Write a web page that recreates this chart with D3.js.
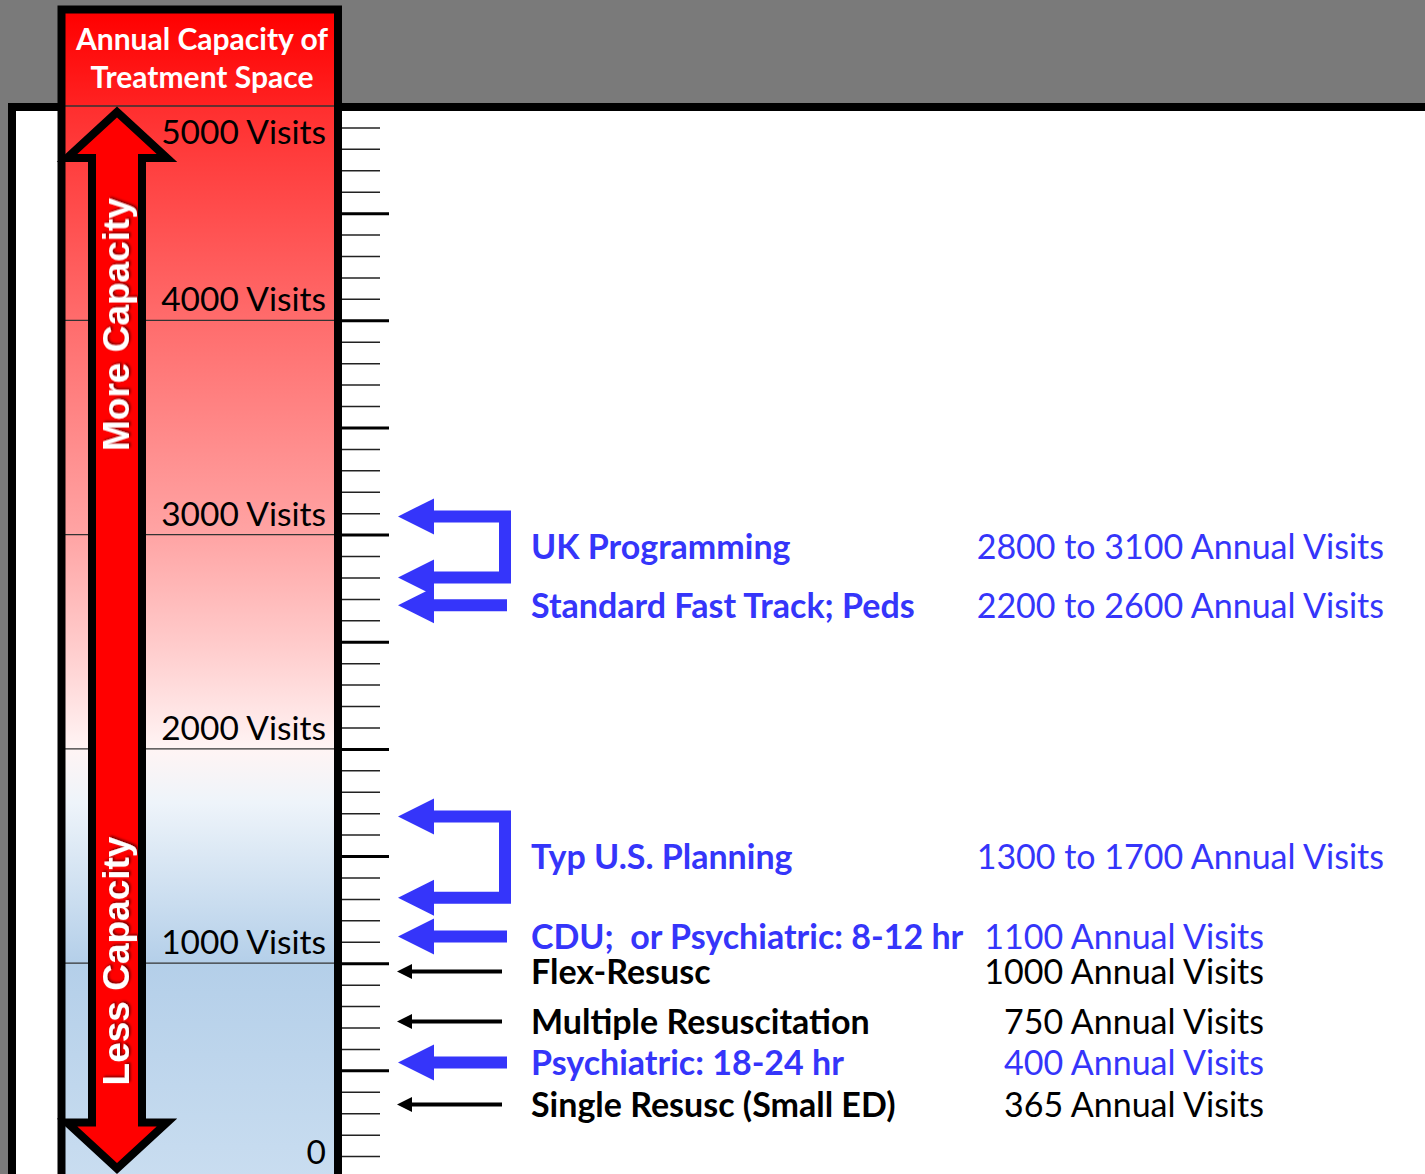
<!DOCTYPE html>
<html>
<head>
<meta charset="utf-8">
<script src="https://cdn.jsdelivr.net/npm/d3@7"></script>
<style>
  html, body { margin: 0; padding: 0; background: #7a7a7a; }
  svg { display: block; }
</style>
</head>
<body>
<div class="chart"></div>
<script>
// scale of the capacity column
const scaleValues = [0, 1000, 2000, 3000, 4000, 5000]
const scaleLabels = ['0', '1000 Visits', '2000 Visits', '3000 Visits', '4000 Visits', '5000 Visits']

// treatment spaces, where the arrows point on the scale
const itemLabels = ['UK Programming', 'Standard Fast Track; Peds', 'Typ U.S. Planning',
	'CDU;  or Psychiatric: 8-12 hr', 'Flex-Resusc', 'Multiple Resuscitation',
	'Psychiatric: 18-24 hr', 'Single Resusc (Small ED)']
const itemVisits = ['2800 to 3100 Annual Visits', '2200 to 2600 Annual Visits', '1300 to 1700 Annual Visits',
	'1100 Annual Visits', '1000 Annual Visits', '750 Annual Visits', '400 Annual Visits', '365 Annual Visits']
const itemArrows = [[3085, 2800], [2670], [1685, 1305], [1125], [961], [728], [537], [341]]
const itemKind = ['planning', 'planning', 'planning', 'planning', 'resus', 'resus', 'planning', 'resus']

const width = 1425, height = 1174

const svg = d3.select('.chart').append('svg')
	.attr('width', width)
	.attr('height', height)

const y = d3.scaleLinear()
	.domain([0, 5000])
	.range([1177.5, 106])

const kindColor = d3.scaleOrdinal()
	.domain(['planning', 'resus'])
	.range(['#3535fa', '#000000'])

const defs = svg.append('defs')

const headGrad = defs.append('linearGradient')
	.attr('id', 'headGrad').attr('x1', 0).attr('x2', 0).attr('y1', 0).attr('y2', 1)
headGrad.append('stop').attr('offset', '0%').attr('stop-color', '#ff0000')
headGrad.append('stop').attr('offset', '100%').attr('stop-color', '#ff2222')

const colGrad = defs.append('linearGradient')
	.attr('id', 'colGrad').attr('gradientUnits', 'userSpaceOnUse')
	.attr('x1', 0).attr('x2', 0).attr('y1', y(5000)).attr('y2', y(0))
const gradStops = [
	[5000, '#ff2e2e'], [4000, '#ff6c6c'], [3000, '#ffa4a4'], [2500, '#ffcaca'],
	[2000, '#fff4f4'], [1750, '#eef4fa'], [1000, '#b4cfe9'], [0, '#c9ddf0']
]
gradStops.forEach(s => {
	colGrad.append('stop')
		.attr('offset', (y(s[0]) - y(5000)) / (y(0) - y(5000)))
		.attr('stop-color', s[1])
})

const shadow = defs.append('filter').attr('id', 'shadow')
	.attr('x', '-20%').attr('y', '-20%').attr('width', '140%').attr('height', '140%')
shadow.append('feDropShadow')
	.attr('dx', 1.5).attr('dy', 1.5).attr('stdDeviation', 1)
	.attr('flood-color', '#000').attr('flood-opacity', 0.55)

// background: grey band and white panel
svg.append('rect')
	.attr('width', width).attr('height', height)
	.attr('fill', '#7a7a7a')

svg.append('rect')
	.attr('x', 12).attr('y', 107)
	.attr('width', width + 100).attr('height', height)
	.attr('fill', '#ffffff')
	.attr('stroke', '#000').attr('stroke-width', 8)

// capacity column
svg.append('rect')
	.attr('x', 65).attr('y', 13)
	.attr('width', 269).attr('height', y(5000) - 13)
	.attr('fill', 'url(#headGrad)')

svg.append('rect')
	.attr('x', 65).attr('y', y(5000))
	.attr('width', 269).attr('height', height - y(5000))
	.attr('fill', 'url(#colGrad)')

svg.selectAll('.band-line')
	.data([5000, 4000, 3000, 2000, 1000])
	.enter()
	.append('line')
	.attr('class', 'band-line')
	.attr('x1', 65).attr('x2', 334)
	.attr('y1', d => y(d)).attr('y2', d => y(d))
	.attr('stroke', '#333').attr('stroke-width', 1.3)

svg.append('rect')
	.attr('x', 61.5).attr('y', 9.5)
	.attr('width', 276.5).attr('height', height + 50)
	.attr('fill', 'none')
	.attr('stroke', '#000').attr('stroke-width', 8)

svg.append('text')
	.attr('x', 202).attr('y', 50)
	.attr('text-anchor', 'middle')
	.attr('font-family', 'Lato, sans-serif').attr('font-weight', 'bold')
	.attr('font-size', 30).attr('fill', '#fff')
	.text('Annual Capacity of')

svg.append('text')
	.attr('x', 202).attr('y', 88)
	.attr('text-anchor', 'middle')
	.attr('font-family', 'Lato, sans-serif').attr('font-weight', 'bold')
	.attr('font-size', 30).attr('fill', '#fff')
	.text('Treatment Space')

svg.selectAll('.scale-label')
	.data(scaleValues)
	.enter()
	.append('text')
	.attr('class', 'scale-label')
	.attr('x', 326)
	.attr('y', d => d === 5000 ? y(d) + 38 : (d === 0 ? y(d) - 14 : y(d) - 9))
	.attr('text-anchor', 'end')
	.attr('font-family', 'Lato, sans-serif')
	.attr('font-size', 33.5)
	.attr('fill', '#000')
	.text((d, i) => scaleLabels[i])

// double headed arrow, more / less capacity
const cx = 117
const arrowPath = d3.path()
arrowPath.moveTo(cx, y(5000) + 6)
arrowPath.lineTo(cx + 50, y(5000) + 52)
arrowPath.lineTo(cx + 25, y(5000) + 52)
arrowPath.lineTo(cx + 25, y(0) - 55)
arrowPath.lineTo(cx + 50, y(0) - 55)
arrowPath.lineTo(cx, y(0) - 9)
arrowPath.lineTo(cx - 50, y(0) - 55)
arrowPath.lineTo(cx - 25, y(0) - 55)
arrowPath.lineTo(cx - 25, y(5000) + 52)
arrowPath.lineTo(cx - 50, y(5000) + 52)
arrowPath.closePath()

svg.append('path')
	.attr('d', arrowPath.toString())
	.attr('fill', '#ff0000')
	.attr('stroke', '#000').attr('stroke-width', 8)
	.attr('stroke-linejoin', 'miter')

svg.selectAll('.capacity-text')
	.data([['More Capacity', 3980], ['Less Capacity', 1010]])
	.enter()
	.append('text')
	.attr('class', 'capacity-text')
	.attr('transform', d => 'translate(129,' + y(d[1]) + ') rotate(-90)')
	.attr('text-anchor', 'middle')
	.attr('font-family', '"Liberation Sans", Arial, sans-serif')
	.attr('font-weight', 'bold')
	.attr('font-size', 37)
	.attr('fill', '#fff')
	.attr('filter', 'url(#shadow)')
	.text(d => d[0])

// ticks
const minorTicks = d3.range(100, 5000, 100).filter(d => d % 500 !== 0)
const majorTicks = d3.range(500, 5000, 500)

svg.append('g')
	.attr('class', 'axis minor')
	.attr('transform', 'translate(342,0)')
	.call(d3.axisRight(y).tickValues(minorTicks).tickSize(38).tickFormat(''))
	.call(g => g.select('.domain').remove())
	.call(g => g.selectAll('line').attr('stroke', '#222').attr('stroke-width', 1.5))

svg.append('g')
	.attr('class', 'axis major')
	.attr('transform', 'translate(342,0)')
	.call(d3.axisRight(y).tickValues(majorTicks).tickSize(47).tickFormat(''))
	.call(g => g.select('.domain').remove())
	.call(g => g.selectAll('line').attr('stroke', '#000').attr('stroke-width', 3))

// pointer arrows
const items = itemLabels.map((label, i) => ({
	label: label,
	visits: itemVisits[i],
	arrows: itemArrows[i],
	kind: itemKind[i]
}))

const arrowG = svg.append('g').attr('class', 'pointers')

items.forEach(d => {
	const col = kindColor(d.kind)
	const thick = d.kind === 'planning'
	const tipX = thick ? 398 : 397
	const baseX = thick ? 434 : 412
	const headH = thick ? 18 : 7.5
	const shaftW = thick ? 12 : 4
	const tailX = thick ? 507 : 502

	d.arrows.forEach(v => {
		arrowG.append('path')
			.attr('d', 'M' + tipX + ',' + y(v) + 'L' + baseX + ',' + (y(v) - headH) + 'L' + baseX + ',' + (y(v) + headH) + 'Z')
			.attr('fill', col)
	})

	if (d.arrows.length === 2) {
		const bx = 505
		arrowG.append('path')
			.attr('d', 'M' + (baseX - 2) + ',' + y(d.arrows[0]) + 'L' + bx + ',' + y(d.arrows[0]) +
				'L' + bx + ',' + y(d.arrows[1]) + 'L' + (baseX - 2) + ',' + y(d.arrows[1]))
			.attr('fill', 'none')
			.attr('stroke', col).attr('stroke-width', shaftW)
			.attr('stroke-linejoin', 'miter')
	} else {
		arrowG.append('line')
			.attr('x1', baseX - 2).attr('x2', tailX)
			.attr('y1', y(d.arrows[0])).attr('y2', y(d.arrows[0]))
			.attr('stroke', col).attr('stroke-width', shaftW)
	}
})

const mid = d => y(d3.mean(d.arrows))

svg.selectAll('.item-label')
	.data(items)
	.enter()
	.append('text')
	.attr('class', 'item-label')
	.attr('x', 531)
	.attr('y', d => mid(d))
	.attr('dy', '0.36em')
	.attr('font-family', 'Lato, sans-serif')
	.attr('font-weight', 'bold')
	.attr('font-size', 34)
	.attr('fill', d => kindColor(d.kind))
	.style('white-space', 'pre')
	.text(d => d.label)

svg.selectAll('.item-visits')
	.data(items)
	.enter()
	.append('text')
	.attr('class', 'item-visits')
	.attr('x', d => d.visits.indexOf(' to ') > 0 ? 1384 : 1264)
	.attr('y', d => mid(d))
	.attr('dy', '0.36em')
	.attr('text-anchor', 'end')
	.attr('font-family', 'Lato, sans-serif')
	.attr('font-size', 34)
	.attr('fill', d => kindColor(d.kind))
	.text(d => d.visits)
</script>
</body>
</html>
